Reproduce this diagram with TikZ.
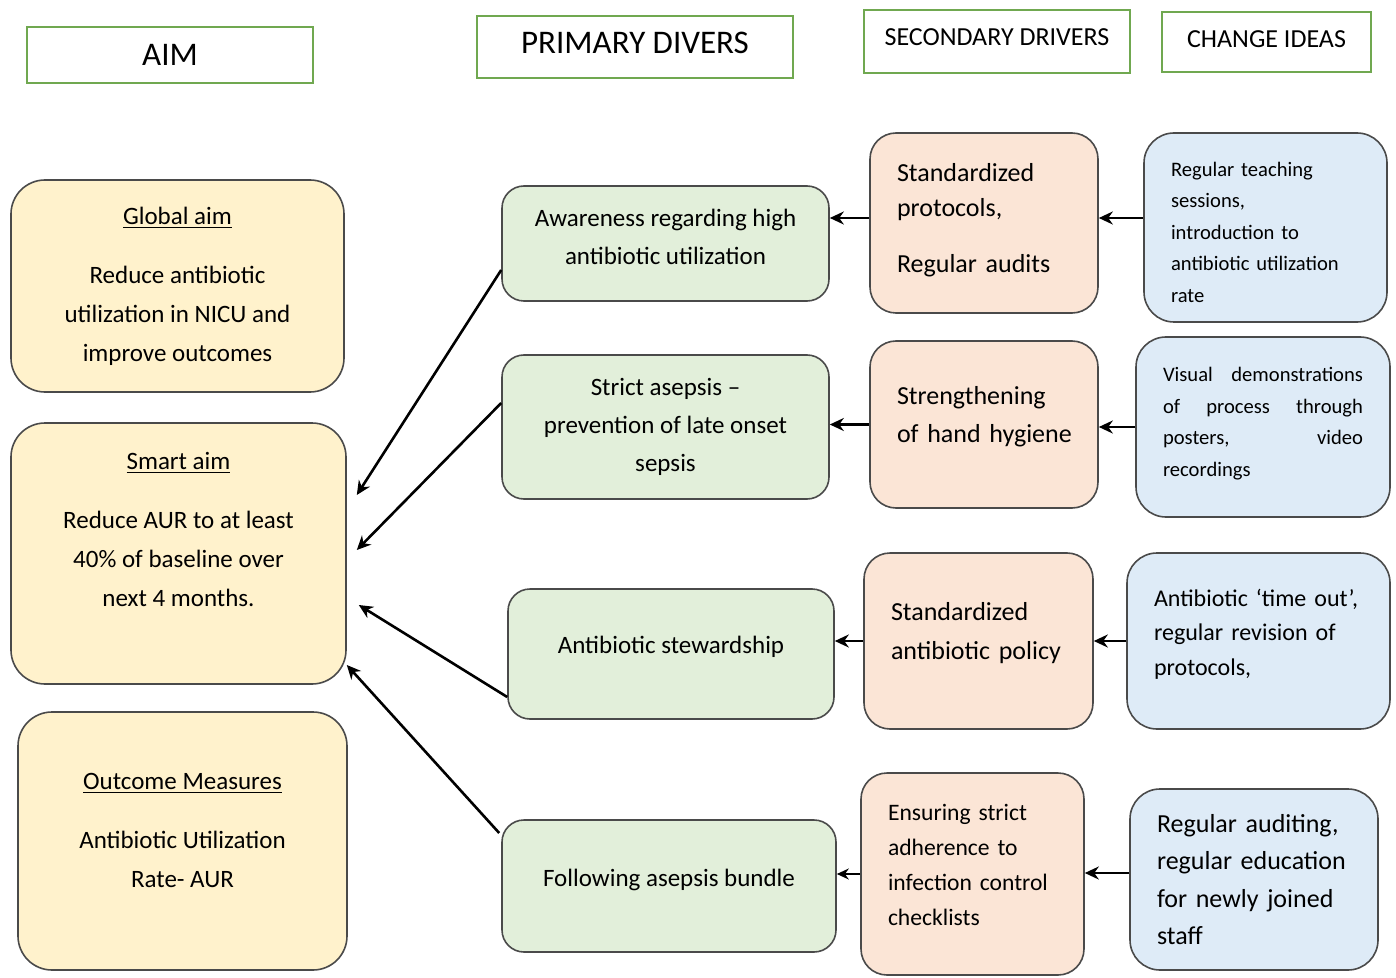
\documentclass[tikz,border=0pt]{standalone}
\usepackage{fontspec}
\setmainfont{Carlito}
\usetikzlibrary{calc,arrows.meta}
\definecolor{amarelo}{HTML}{FFF2CC}
\definecolor{verdeclaro}{HTML}{E2EFDA}
\definecolor{laranja}{HTML}{FBE5D6}
\definecolor{azul}{HTML}{DEEBF7}
\definecolor{borda}{HTML}{4A4A4A}
\definecolor{bordacab}{RGB}{112,168,80}
\newcommand{\linhaj}[1]{\makebox[100pt][l]{#1}}
\begin{document}
\begin{tikzpicture}[x=0.5pt, y=-0.5pt, %1 unidade = 1 pixel da figura
	cab/.style={draw=bordacab, line width=0.9pt, inner sep=0pt},
	caixa/.style={draw=borda, line width=0.8pt, inner sep=0pt},
	esq/.style={align=left, inner xsep=13.5pt, inner ysep=0pt},
	seta/.style={-{Stealth[length=7pt,width=6.5pt]}, line width=1.3pt},
	setafina/.style={-{Stealth[length=6pt,width=5.5pt]}, line width=0.8pt}]
	\useasboundingbox (0,0) rectangle (1396,978); %Moldura
	%Cabeçalhos
	\node[cab, minimum width=143pt, minimum height=28pt, font=\fontsize{16.5}{20}\selectfont] (aim) at (170,55) {AIM};
	\node[cab, minimum width=158pt, minimum height=31pt, text depth=4pt, font=\fontsize{16.5}{20}\selectfont] (prim) at (635,47) {PRIMARY DIVERS};
	\node[cab, minimum width=133pt, minimum height=31.5pt, text depth=4.5pt, font=\fontsize{13}{16}\selectfont] (sec) at (997,41.5) {SECONDARY DRIVERS};
	\node[cab, minimum width=104.5pt, minimum height=30pt, text depth=3pt, font=\fontsize{13}{16}\selectfont] (chg) at (1266.5,42) {CHANGE IDEAS};
	%Objetivos
	\node[caixa, fill=amarelo, rounded corners=17pt, minimum width=166.5pt, minimum height=106pt, align=center, font=\fontsize{12.5}{19.5}\selectfont] (global) at (177.5,286) {\underline{Global aim}\\[10pt] Reduce antibiotic\\ utilization in NICU and\\ improve outcomes};
	\node[caixa, fill=amarelo, rounded corners=17pt, minimum width=167.5pt, minimum height=130.5pt, align=center, font=\fontsize{12.5}{19.5}\selectfont] (smart) at (178.5,553.5) {\underline{Smart aim}\\[10pt] Reduce AUR to at least\\ 40\% of baseline over\\ next 4 months.\\[4.5pt]\mbox{}};
	\node[caixa, fill=amarelo, rounded corners=17pt, minimum width=164.5pt, minimum height=129pt, align=center, font=\fontsize{12.5}{19.5}\selectfont] (outcome) at (182.5,841) {\underline{Outcome Measures}\\[10pt] Antibiotic Utilization\\ Rate- AUR\\[-8.5pt]\mbox{}};
	%Direcionadores primários
	\node[caixa, fill=verdeclaro, rounded corners=11pt, minimum width=163.5pt, minimum height=57.5pt, align=center, font=\fontsize{12.5}{19}\selectfont] (aware) at (665.5,243.5) {Awareness regarding high\\ antibiotic utilization\\[-12pt]\mbox{}};
	\node[caixa, fill=verdeclaro, rounded corners=11pt, minimum width=163.5pt, minimum height=72pt, align=center, font=\fontsize{12.5}{19.2}\selectfont] (asepsis) at (665.5,427) {Strict asepsis --\\ prevention of late onset\\ sepsis};
	\node[caixa, fill=verdeclaro, rounded corners=11pt, minimum width=163pt, minimum height=65pt, align=center, font=\fontsize{12.5}{19}\selectfont] (steward) at (671,654) {Antibiotic stewardship\\[-10pt]\mbox{}};
	\node[caixa, fill=verdeclaro, rounded corners=11pt, minimum width=167pt, minimum height=66pt, align=center, font=\fontsize{12.5}{19}\selectfont] (bundle) at (669,886) {Following asepsis bundle\\[-11pt]\mbox{}};
	%Direcionadores secundários
	\node[caixa, esq, fill=laranja, rounded corners=13pt, minimum width=114pt, minimum height=90pt, text width=87pt, font=\fontsize{13}{17.5}\selectfont] (protocols) at (984,223) {Standardized\\ protocols,\\[10.5pt] Regular audits\\[-12.5pt]\mbox{}};
	\node[caixa, esq, fill=laranja, rounded corners=13pt, minimum width=114pt, minimum height=83.5pt, text width=87pt, font=\fontsize{13}{19}\selectfont] (hygiene) at (984,424.5) {Strengthening\\ \mbox{of hand hygiene}\\[-9pt]\mbox{}};
	\node[caixa, esq, fill=laranja, rounded corners=13pt, minimum width=114.5pt, minimum height=88pt, text width=87.5pt, font=\fontsize{13}{19.5}\selectfont] (policy) at (978.5,641) {Standardized\\ \mbox{antibiotic policy}\\[-9.5pt]\mbox{}};
	\node[caixa, esq, fill=laranja, rounded corners=13pt, minimum width=111.5pt, minimum height=101pt, text width=84.5pt, font=\fontsize{11.8}{17.5}\selectfont] (checklist) at (972.5,874) {Ensuring strict\\ adherence to\\ \mbox{infection control}\\ checklists\\[-8.5pt]\mbox{}};
	%Ideias de mudança
	\node[caixa, esq, fill=azul, rounded corners=15pt, minimum width=121.5pt, minimum height=94.5pt, text width=94.5pt, font=\fontsize{10.3}{15.75}\selectfont] (teaching) at (1265.5,227.5) {\mbox{}\\[-3.75pt]Regular teaching\\ sessions,\\ introduction to\\ \mbox{antibiotic utilization}\\ rate};
	\node[caixa, esq, fill=azul, rounded corners=15pt, minimum width=127pt, minimum height=90pt, text width=100pt, font=\fontsize{10.3}{15.8}\selectfont] (visual) at (1263,427) {\linhaj{Visual\hfill demonstrations}\\ \linhaj{of\hfill process\hfill through}\\ \linhaj{posters,\hfill video}\\ recordings\\[-10.8pt]\mbox{}};
	\node[caixa, esq, fill=azul, rounded corners=15pt, minimum width=131.5pt, minimum height=88pt, text width=104.5pt, font=\fontsize{12}{17.25}\selectfont] (timeout) at (1258.5,641) {\mbox{Antibiotic ‘time out’,}\\ regular revision of\\ protocols,\\[-8.25pt]\mbox{}};
	\node[caixa, esq, fill=azul, rounded corners=15pt, minimum width=124pt, minimum height=90.5pt, text width=97pt, font=\fontsize{13}{18.8}\selectfont] (auditing) at (1254,879.5) {Regular auditing,\\ \mbox{regular education}\\ for newly joined\\ staff};
	%Setas horizontais
	\draw[seta] ($(teaching.west)+(0,-9.5)$) -- ($(teaching.west -| protocols.east)+(0,-9.5)$);
	\draw[seta] ($(protocols.west)+(0,-5)$) -- ($(protocols.west -| aware.east)+(0,-5)$);
	\draw[seta] (visual.west) -- (visual.west -| hygiene.east);
	\draw[seta] (hygiene.west) -- (hygiene.west -| asepsis.east);
	\draw[seta] (timeout.west) -- (timeout.west -| policy.east);
	\draw[seta] (policy.west) -- (policy.west -| steward.east);
	\draw[seta] ($(auditing.west)+(0,-6.5)$) -- ($(auditing.west -| checklist.east)+(0,-6.5)$);
	\draw[setafina] (checklist.west) -- (checklist.west -| bundle.east);
	%Setas para o objetivo smart
	\draw[seta] ($(aware.west)+(0,26.5)$) -- ($(smart.east)+(10,-58.5)$);
	\draw[seta] ($(asepsis.west)+(0,-24)$) -- ($(smart.east)+(10,-3.5)$);
	\draw[seta] ($(steward.west)+(0,43)$) -- ($(smart.east)+(12,51.5)$);
	\draw[seta] ($(bundle.west)+(-2,-53)$) -- ($(smart.east)+(0,111.5)$);
\end{tikzpicture}
\end{document}
